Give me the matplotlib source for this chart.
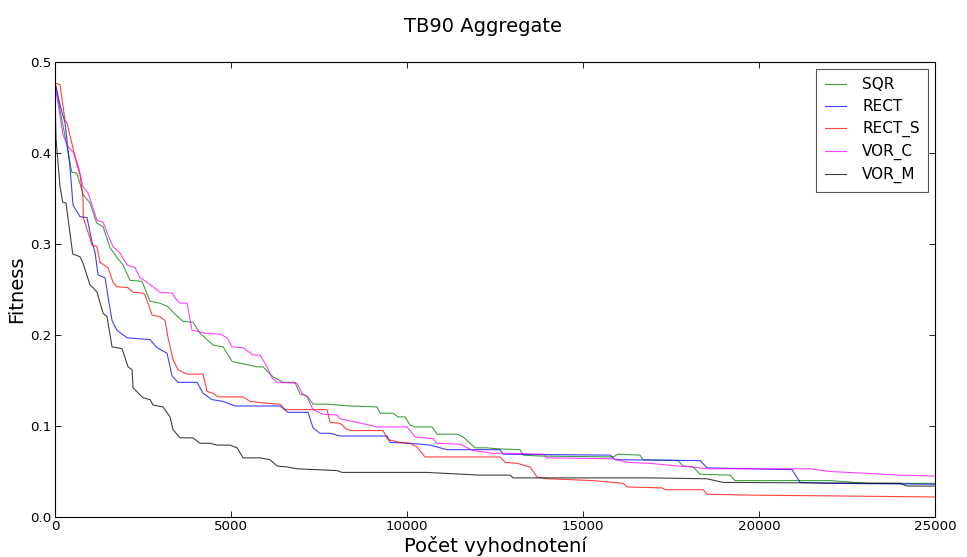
import matplotlib
matplotlib.use("Agg")
import matplotlib.pyplot as plt

# SQR (green)
sqr_x = [0, 28, 142, 369, 474, 616, 804, 994, 1185, 1364, 1563, 1761, 1932, 2131, 2472, 2699, 2983,
         3210, 3352, 3636, 3921, 4119, 4489, 4773, 5029, 5256, 5739, 5909, 6193, 6477, 6818, 6960,
         7159, 7330, 7727, 8381, 9148, 9233, 9603, 9745, 9944, 10086, 10228, 10711, 10852, 11420,
         11591, 11705, 11932, 12273, 12557, 13210, 13295, 13778, 15852, 15994, 16619, 16705, 17699,
         17841, 18125, 18324, 19176, 19318, 22017, 23068, 25000]
sqr_y = [0.477, 0.473, 0.447, 0.401, 0.379, 0.378, 0.354, 0.345, 0.323, 0.319, 0.296, 0.285, 0.277,
         0.260, 0.259, 0.237, 0.235, 0.231, 0.225, 0.215, 0.214, 0.202, 0.189, 0.187, 0.171, 0.169,
         0.165, 0.165, 0.154, 0.148, 0.148, 0.135, 0.133, 0.124, 0.124, 0.122, 0.121, 0.114, 0.114,
         0.110, 0.110, 0.101, 0.099, 0.099, 0.091, 0.091, 0.088, 0.084, 0.076, 0.076, 0.075, 0.074,
         0.068, 0.067, 0.066, 0.069, 0.068, 0.063, 0.062, 0.056, 0.055, 0.047, 0.046, 0.040, 0.040,
         0.037, 0.037]

# RECT (blue)
rect_x = [0, 142, 284, 426, 511, 710, 909, 1051, 1136, 1222, 1420, 1506, 1619, 1761, 2046, 2330,
          2699, 2898, 3182, 3324, 3494, 4034, 4205, 4460, 4773, 5114, 6392, 6619, 7188, 7330, 7529,
          7813, 8097, 9432, 9517, 10086, 10654, 11136, 12642, 12727, 15767, 15909, 18324, 18523,
          20938, 21165, 21932, 25000]
rect_y = [0.477, 0.453, 0.433, 0.384, 0.343, 0.330, 0.329, 0.302, 0.291, 0.266, 0.263, 0.242, 0.216,
          0.205, 0.197, 0.196, 0.195, 0.186, 0.180, 0.155, 0.148, 0.148, 0.136, 0.129, 0.127, 0.122,
          0.122, 0.115, 0.115, 0.098, 0.092, 0.092, 0.089, 0.089, 0.082, 0.081, 0.079, 0.074, 0.074,
          0.069, 0.068, 0.063, 0.062, 0.054, 0.052, 0.038, 0.037, 0.036]

# RECT_S (red)
rects_x = [0, 142, 284, 341, 625, 710, 795, 804, 938, 1051, 1193, 1278, 1506, 1648, 1761, 2074, 2216,
           2500, 2557, 2756, 2983, 3125, 3210, 3352, 3494, 3636, 3750, 4205, 4318, 4489, 4631, 5341,
           5540, 6023, 6392, 6534, 7727, 7813, 8097, 8296, 8438, 9318, 9460, 9801, 10086, 10284,
           10511, 12642, 12784, 13125, 13494, 13693, 13977, 14688, 15284, 16136, 16250, 17244,
           17330, 18409, 18523, 19830, 22585, 25000]
rects_y = [0.477, 0.475, 0.436, 0.433, 0.387, 0.376, 0.351, 0.329, 0.313, 0.299, 0.297, 0.280, 0.274,
           0.258, 0.253, 0.252, 0.247, 0.246, 0.244, 0.222, 0.220, 0.216, 0.197, 0.173, 0.162, 0.159,
           0.157, 0.157, 0.138, 0.136, 0.132, 0.132, 0.127, 0.125, 0.124, 0.118, 0.118, 0.104, 0.103,
           0.096, 0.095, 0.095, 0.085, 0.082, 0.081, 0.077, 0.066, 0.066, 0.060, 0.059, 0.055, 0.044,
           0.042, 0.041, 0.040, 0.037, 0.033, 0.032, 0.030, 0.030, 0.025, 0.024, 0.023, 0.022]

# VOR_C (magenta)
vorc_x = [0, 57, 227, 369, 511, 653, 795, 938, 1051, 1193, 1364, 1506, 1648, 1847, 2046, 2273, 2415,
          2614, 2784, 2983, 3324, 3466, 3551, 3750, 3892, 4063, 4261, 4688, 4886, 5029, 5341, 5625,
          5824, 6023, 6165, 6307, 6875, 7017, 7159, 7330, 7614, 8011, 8097, 8580, 9148, 10000,
          10228, 10739, 10852, 11506, 11875, 12443, 12841, 13864, 13977, 15852, 16250, 16903,
          17670, 18125, 18523, 21449, 22017, 23068, 24006, 25000]
vorc_y = [0.477, 0.461, 0.420, 0.407, 0.401, 0.387, 0.363, 0.356, 0.343, 0.326, 0.324, 0.310, 0.297,
          0.290, 0.277, 0.274, 0.263, 0.258, 0.253, 0.247, 0.246, 0.238, 0.235, 0.235, 0.205, 0.204,
          0.202, 0.201, 0.197, 0.187, 0.186, 0.178, 0.178, 0.165, 0.153, 0.148, 0.147, 0.136, 0.132,
          0.118, 0.113, 0.112, 0.108, 0.104, 0.099, 0.099, 0.088, 0.086, 0.081, 0.080, 0.073, 0.070,
          0.070, 0.069, 0.065, 0.064, 0.060, 0.059, 0.056, 0.055, 0.053, 0.053, 0.050, 0.048, 0.046,
          0.045]

# VOR_M (black)
vorm_x = [0, 28, 142, 219, 312, 503, 710, 795, 994, 1080, 1193, 1364, 1477, 1619, 1903, 2074, 2188,
          2216, 2500, 2699, 2784, 3068, 3267, 3352, 3551, 3921, 4119, 4404, 4602, 4972, 5171, 5341,
          5824, 6108, 6307, 6591, 6875, 7443, 8011, 8154, 10568, 12074, 12926, 13012, 16903, 18523,
          18977, 24006, 24205, 25000]
vorm_y = [0.46, 0.416, 0.363, 0.346, 0.345, 0.289, 0.286, 0.279, 0.255, 0.252, 0.247, 0.224, 0.220,
          0.187, 0.185, 0.165, 0.162, 0.142, 0.131, 0.129, 0.123, 0.121, 0.110, 0.096, 0.087, 0.087,
          0.081, 0.081, 0.079, 0.079, 0.076, 0.065, 0.065, 0.063, 0.056, 0.055, 0.053, 0.052, 0.051,
          0.049, 0.049, 0.046, 0.046, 0.043, 0.043, 0.042, 0.038, 0.037, 0.034, 0.034]

labels = ["SQR", "RECT", "RECT_S", "VOR_C", "VOR_M"]
colors = ["#008000", "#0000ff", "#ff0000", "#ff00ff", "#000000"]
series = [(sqr_x, sqr_y), (rect_x, rect_y), (rects_x, rects_y), (vorc_x, vorc_y), (vorm_x, vorm_y)]

xticks = [0, 5000, 10000, 15000, 20000, 25000]
yticks = [0.0, 0.1, 0.2, 0.3, 0.4, 0.5]

plt.rcParams['font.family'] = ['DejaVu Sans']
fig = plt.figure(figsize=(9.67, 5.57), dpi=100)
ax = fig.add_axes([0.0569, 0.0718, 0.9101, 0.8169])

for (x, y), c, lab in zip(series, colors, labels):
    ax.plot(x, y, color=c, lw=0.8, alpha=0.75, label=lab)

ax.set_xlim(0, 25000)
ax.set_ylim(0, 0.5)
ax.set_xticks(xticks)
ax.set_yticks(yticks)
ax.set_yticklabels([f"{v:.1f}" for v in yticks])
ax.tick_params(direction='in', top=True, right=True, labelsize=9.6, length=4, width=0.6, pad=2.5)
for s in ax.spines.values():
    s.set_linewidth(0.8)

ax.set_xlabel("Počet vyhodnotení", fontsize=14.2, labelpad=2)
ax.set_ylabel("Fitness", fontsize=14, labelpad=3)
fig.suptitle("TB90 Aggregate", fontsize=14, y=0.97)

leg = ax.legend(loc='upper right', fontsize=11, fancybox=False, framealpha=1,
                edgecolor='#555555', handlelength=1.4, handletextpad=1.05, borderpad=0.55,
                labelspacing=0.45, borderaxespad=0.45)
leg.get_frame().set_linewidth(0.8)

fig.savefig("out.png", dpi=100)
